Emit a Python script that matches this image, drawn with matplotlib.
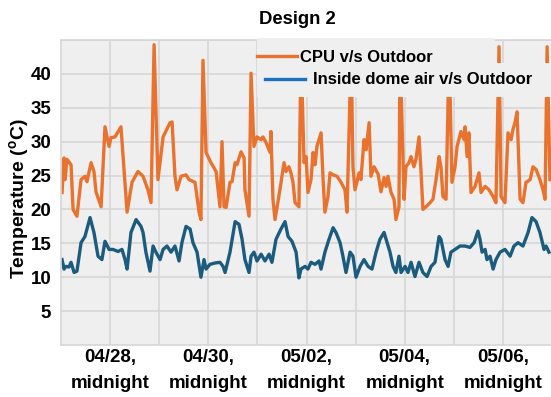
import matplotlib
matplotlib.use('Agg')
import matplotlib.pyplot as plt
from matplotlib.lines import Line2D
from matplotlib.patches import Rectangle

plt.rcParams['font.family'] = ['Liberation Sans', 'DejaVu Sans']
plt.rcParams['font.weight'] = 'bold'
plt.rcParams['mathtext.fontset'] = 'custom'
plt.rcParams['mathtext.rm'] = 'Liberation Sans:bold'
plt.rcParams['mathtext.bf'] = 'Liberation Sans:bold'

# hours since 04/27 midnight, temperature in degC
cpu_hours = [0.5, 1.5, 2.0, 2.9, 4.9, 5.9, 7.8, 9.8, 11.7, 12.7, 14.7, 16.1, 17.1, 19.6,
             21.5, 23.5, 24.4, 26.4, 29.3, 32.3, 34.7, 37.6, 40.1, 42.5, 44.0, 45.5,
             47.4, 49.9, 53.3, 54.3, 55.7, 56.7, 58.7, 61.1, 62.6, 65.5, 67.5, 68.4,
             69.4, 70.9, 73.3, 75.8, 77.7, 78.7, 79.7, 80.7, 82.6, 83.6, 85.1, 86.0,
             88.0, 89.5, 89.9, 91.9, 92.9, 94.3, 95.8, 97.8, 98.7, 100.2, 102.2, 102.6,
             103.6, 104.6, 107.0, 109.0, 110.0, 111.4, 112.4, 113.4, 114.4, 116.3,
             117.3, 118.8, 119.8, 120.7, 122.2, 123.2, 124.2, 125.1, 127.1, 128.1,
             129.0, 130.5, 131.5, 133.0, 134.9, 136.9, 138.8, 139.8, 141.8, 142.7,
             143.7, 145.7, 146.6, 148.1, 149.1, 150.6, 151.5, 153.0, 155.0, 156.4,
             157.9, 158.9, 159.8, 161.3, 162.8, 163.7, 165.2, 165.7, 167.7, 168.6,
             170.1, 171.1, 172.5, 173.5, 175.0, 176.0, 176.9, 178.4, 180.4, 181.8,
             183.3, 184.8, 185.7, 186.7, 188.2, 189.7, 191.1, 192.6, 193.6, 195.5,
             197.0, 197.5, 198.5, 199.4, 200.4, 202.4, 204.3, 205.3, 207.3, 209.2,
             211.2, 212.6, 214.1, 215.1, 217.0, 218.5, 220.0, 220.9, 221.9, 222.9,
             224.4, 225.8, 227.3, 229.3, 230.7, 232.2, 234.1, 235.6, 236.6, 237.6,
             239.0]
cpu_temp = [22.5, 27.6, 24.4, 27.4, 26.6, 20.0, 19.0, 24.4, 24.9, 24.1, 26.9, 25.6, 22.6, 20.4,
            32.2, 29.3, 30.6, 30.7, 32.2, 19.6, 24.0, 25.6, 24.9, 22.9, 21.0, 44.3,
            24.4, 30.7, 32.8, 32.9, 24.9, 22.9, 24.9, 25.1, 24.4, 24.0, 19.6, 18.5,
            42.0, 28.4, 26.9, 25.6, 20.4, 30.0, 20.4, 20.3, 24.0, 24.1, 26.9, 26.6,
            28.5, 27.6, 22.9, 19.0, 40.1, 29.3, 30.7, 30.3, 30.7, 29.9, 28.4, 31.5,
            21.5, 18.5, 22.9, 26.9, 25.6, 26.3, 25.4, 24.0, 21.0, 20.4,
            43.5, 26.9, 27.8, 22.5, 24.4, 28.4, 26.6, 29.3, 31.3, 24.4,
            19.6, 21.9, 25.4, 25.1, 24.9, 24.0, 22.9, 19.6, 43.5, 26.3,
            22.9, 25.4, 24.4, 30.3, 28.8, 32.8, 24.9, 26.3, 25.2, 22.6,
            24.7, 23.4, 24.9, 22.5, 21.5, 18.5, 20.4, 43.5, 21.5, 26.3,
            26.9, 27.8, 26.3, 27.4, 30.7, 25.4, 20.0, 20.4, 21.0, 21.5,
            24.4, 27.8, 26.3, 21.9, 21.5, 43.5, 24.0, 26.3, 29.3, 31.5,
            30.3, 32.2, 27.8, 31.3, 22.5, 23.4, 25.4, 22.5, 23.4, 22.9,
            21.9, 21.0, 44.0, 21.9, 21.0, 31.3, 30.3, 31.8, 32.8, 34.4,
            21.5, 21.0, 24.0, 24.4, 26.3, 25.9, 24.4, 22.9, 21.5, 44.0,
            24.4]

dome_hours = [0.5, 1.5, 2.4, 3.9, 4.9, 6.4, 7.8, 9.8, 11.7, 14.2, 16.1, 18.1, 20.0, 21.5,
              23.5, 25.4, 27.9, 29.8, 31.3, 32.3, 34.2, 36.7, 39.1, 40.1, 41.5, 43.5,
              45.0, 46.4, 48.4, 49.9, 51.8, 53.8, 55.7, 57.7, 59.1, 61.1, 63.1, 64.5,
              66.5, 68.4, 69.9, 70.9, 72.8, 75.3, 77.7, 79.2, 80.2, 82.6, 85.1, 87.0,
              88.5, 89.9, 91.9, 92.9, 94.3, 95.8, 97.8, 99.7, 101.7, 103.1, 105.1,
              107.5, 109.5, 111.0, 112.9, 114.9, 116.3, 117.3, 119.3, 120.7, 122.2,
              124.2, 126.1, 127.1, 129.0, 131.0, 133.0, 134.4, 136.4, 137.8, 139.3,
              141.3, 142.7, 144.2, 146.2, 148.1, 150.1, 152.0, 154.0, 155.9, 157.9,
              158.9, 160.8, 162.3, 163.7, 165.2, 166.2, 168.2, 169.6, 171.1, 173.0,
              175.0, 176.9, 178.9, 180.9, 182.8, 184.8, 185.7, 187.7, 189.2, 190.6,
              192.6, 195.0, 197.5, 199.9, 201.9, 203.8, 204.8, 205.8, 207.3, 208.2,
              209.7, 211.2, 212.6, 214.6, 217.0, 219.5, 221.4, 223.4, 225.8, 228.3,
              230.2, 232.2, 234.1, 236.1, 237.1, 238.5]
dome_temp = [12.6, 11.2, 11.6, 11.5, 12.2, 10.7, 10.9, 15.1, 16.0, 18.8, 16.6, 13.1, 12.6, 15.3,
             14.1, 14.1, 13.8, 14.1, 12.6, 11.2, 16.6, 18.5, 17.5, 16.6, 13.7, 10.9,
             14.6, 13.7, 12.6, 14.1, 14.6, 13.7, 14.6, 12.4, 15.1, 17.5, 17.1, 15.1,
             13.7, 10.0, 12.6, 11.2, 11.9, 12.1, 12.2, 11.6, 10.7, 13.7, 18.2, 17.8,
             15.6, 12.6, 10.7, 13.1, 13.7, 12.4, 13.4, 12.4, 13.4, 12.2, 15.6,
             17.1, 18.2, 16.0, 15.3, 13.7, 9.9, 11.2, 11.6, 11.2, 12.2,
             11.9, 12.4, 11.2, 13.7, 15.6, 17.3, 16.6, 15.1, 13.1, 10.7,
             13.7, 13.1, 10.0, 11.6, 12.6, 11.6, 11.2, 13.7, 15.6, 16.6,
             15.6, 13.7, 11.6, 10.7, 13.1, 10.7, 11.6, 10.7, 12.2, 10.1,
             12.2, 10.7, 10.1, 11.6, 12.2, 16.0, 15.6, 12.6, 11.6, 13.7,
             14.1, 14.6, 14.6, 14.4, 15.1, 16.8, 15.6, 13.7, 14.1, 12.6,
             13.1, 11.2, 12.6, 13.7, 14.1, 13.1, 14.6, 15.1, 14.6, 16.6,
             18.8, 18.2, 16.6, 14.1, 14.6, 13.7]

tick_hours = [24, 72, 120, 168, 216]
tick_labels = ['04/28,\nmidnight', '04/30,\nmidnight', '05/02,\nmidnight',
               '05/04,\nmidnight', '05/06,\nmidnight']
day_hours = [24 * d for d in range(1, 10)]

orange = '#E9722E'
teal = '#1B5C7E'
bg = '#EFEFEF'

fig = plt.figure(figsize=(5.51, 3.97), dpi=100)
ax = fig.add_axes([61 / 551, 52 / 397, 490 / 551, 305 / 397])
ax.set_facecolor(bg)

ax.plot(cpu_hours, cpu_temp, color=orange, lw=2.4, zorder=2)
ax.plot(dome_hours, dome_temp, color=teal, lw=2.4, zorder=2)

ax.set_xlim(0, 239.5)
ax.set_ylim(0, 45)
ax.set_yticks([5, 10, 15, 20, 25, 30, 35, 40])
ax.set_xticks(tick_hours)
ax.set_xticklabels(tick_labels, linespacing=1.65)
ax.set_xticks(day_hours, minor=True)
ax.tick_params(axis='both', length=0, labelsize=13.5)
ax.tick_params(axis='x', pad=3)
ax.tick_params(axis='y', pad=7)
ax.tick_params(which='minor', length=0)
for lab in ax.get_xticklabels() + ax.get_yticklabels():
    lab.set_fontweight('bold')

ax.set_yticks([45], minor=True)
ax.grid(True, which='both', color='#D6D6D6', lw=1.2, zorder=0)
ax.set_axisbelow(True)
for s in ax.spines.values():
    s.set_color('#D6D6D6')
    s.set_linewidth(1.2)
ax.spines['right'].set_visible(False)

ax.set_ylabel('Temperature ($\\mathbf{^{o}}$C)', fontsize=14, fontweight='bold')
ax.yaxis.set_label_coords(-0.062, 0.48)
fig.text(297 / 551, 1 - 20 / 397, 'Design 2', ha='center', va='center',
         fontsize=13.3, fontweight='bold')

# legend panels sit over the traces
ax.add_patch(Rectangle((0.40, 0.925), 0.486, 0.08, transform=ax.transAxes,
                       facecolor=bg, edgecolor='none', zorder=3, clip_on=False))
ax.add_patch(Rectangle((0.40, 0.813), 0.60, 0.112, transform=ax.transAxes,
                       facecolor=bg, edgecolor='none', zorder=3, clip_on=False))

h1 = Line2D([], [], color=orange, lw=2.4)
h2 = Line2D([], [], color='#1F70C1', lw=2.4)
leg1 = ax.legend([h1], ['CPU v/s Outdoor'], loc='center left',
                 bbox_to_anchor=((257 - 61) / 490, (345 - 57) / 305),
                 frameon=False, borderpad=0, borderaxespad=0,
                 handlelength=2.4, handletextpad=0.15,
                 prop={'size': 12, 'weight': 'bold'})
leg1.set_zorder(4)
ax.add_artist(leg1)
leg2 = ax.legend([h2], ['Inside dome air v/s Outdoor'], loc='center left',
                 bbox_to_anchor=((265 - 61) / 490, (345 - 80) / 305),
                 frameon=False, borderpad=0, borderaxespad=0,
                 handlelength=2.4, handletextpad=0.5,
                 prop={'size': 12, 'weight': 'bold'})
leg2.set_zorder(4)

fig.savefig('out.png', dpi=100)
